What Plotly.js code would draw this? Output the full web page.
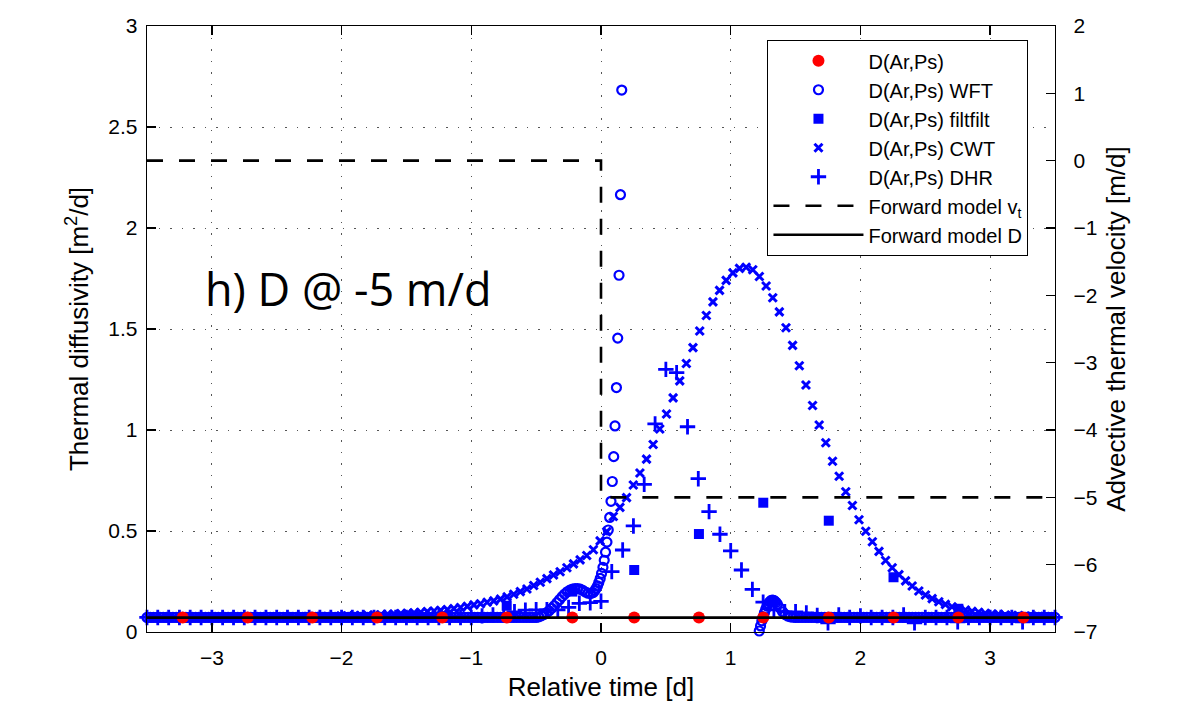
<!DOCTYPE html>
<html>
<head>
<meta charset="utf-8">
<script src="https://cdn.plot.ly/plotly-3.0.1.min.js"></script>
<style>html,body{margin:0;padding:0;background:#fff;}#chart{width:1188px;height:706px;}</style>
</head>
<body>
<div id="chart"></div>
<script>
// ---------- D(Ar,Ps) (red dots) ----------
const arpsTime = [-3.225,-2.724,-2.226,-1.727,-1.224,-0.727,-0.221,0.256,0.755,1.251,1.756,2.255,2.755,3.256];
const arpsD    = [0.072,0.072,0.072,0.072,0.072,0.072,0.072,0.072,0.072,0.072,0.072,0.072,0.072,0.072];

// ---------- D(Ar,Ps) filtfilt ----------
const filtTime = [-3.225,-2.724,-2.226,-1.727,-1.224,-0.727,-0.221,0.256,0.755,1.251,1.756,2.255,2.755,3.256];
const filtD    = [0.072,0.072,0.072,0.072,0.072,0.13,0.2,0.307,0.485,0.64,0.551,0.271,0.115,0.072];

// ---------- D(Ar,Ps) WFT (segments) ----------
const wftTimeA = [-3.5,-3.475,-3.45,-3.425,-3.4,-3.375,-3.35,-3.325,-3.3,-3.275,-3.25,-3.225,-3.2,-3.175,-3.15,-3.125,-3.1,-3.075,-3.05,-3.025,
-3,-2.975,-2.95,-2.925,-2.9,-2.875,-2.85,-2.825,-2.8,-2.775,-2.75,-2.725,-2.7,-2.675,-2.65,-2.625,-2.6,-2.575,-2.55,-2.525,
-2.5,-2.475,-2.45,-2.425,-2.4,-2.375,-2.35,-2.325,-2.3,-2.275,-2.25,-2.225,-2.2,-2.175,-2.15,-2.125,-2.1,-2.075,-2.05,-2.025,
-2,-1.975,-1.95,-1.925,-1.9,-1.875,-1.85,-1.825,-1.8,-1.775,-1.75,-1.725,-1.7,-1.675,-1.65,-1.625,-1.6,-1.575,-1.55,-1.525,
-1.5,-1.475,-1.45,-1.425,-1.4,-1.375,-1.35,-1.325,-1.3,-1.275,-1.25,-1.225,-1.2,-1.175,-1.15,-1.125,-1.1,-1.075,-1.05,-1.025,
-1,-0.975,-0.95,-0.925,-0.9,-0.875,-0.85,-0.825,-0.8,-0.775,-0.75,-0.725,-0.7,-0.675,-0.65,-0.625,-0.6,-0.575,-0.55,-0.525];
const wftDA = [0.072,0.072,0.072,0.072,0.072,0.072,0.072,0.072,0.072,0.072,0.072,0.072,0.072,0.072,0.072,0.072,0.072,0.072,0.072,0.072,
0.072,0.072,0.072,0.072,0.072,0.072,0.072,0.072,0.072,0.072,0.072,0.072,0.072,0.072,0.072,0.072,0.072,0.072,0.072,0.072,
0.072,0.072,0.072,0.072,0.072,0.072,0.072,0.072,0.072,0.072,0.072,0.072,0.072,0.072,0.072,0.072,0.072,0.072,0.072,0.072,
0.072,0.072,0.072,0.072,0.072,0.072,0.072,0.072,0.072,0.072,0.072,0.072,0.072,0.072,0.072,0.072,0.072,0.072,0.072,0.072,
0.072,0.072,0.072,0.072,0.072,0.072,0.072,0.072,0.072,0.072,0.072,0.072,0.072,0.072,0.072,0.072,0.072,0.072,0.072,0.072,
0.072,0.072,0.072,0.072,0.072,0.072,0.072,0.072,0.072,0.072,0.072,0.072,0.072,0.072,0.072,0.072,0.072,0.072,0.072,0.072];
const wftTimeB = [-0.5,-0.48,-0.46,-0.44,-0.42,-0.4,-0.38,-0.36,-0.34,-0.32,-0.3,-0.28,-0.26,-0.24,-0.22,-0.2,-0.18,-0.16,-0.14,-0.12,-0.1,-0.08,-0.06,
-0.048,-0.038,-0.027,-0.017,-0.006,0.004,0.015,0.025,0.035,0.046,0.056,0.067,0.077,0.087,0.098,0.108,0.119,0.129,0.139,0.15,0.16];
const wftDB = [0.072,0.075,0.08,0.087,0.095,0.105,0.117,0.13,0.145,0.16,0.175,0.188,0.199,0.207,0.212,0.215,0.215,0.212,0.206,0.198,0.192,0.19,0.195,
0.205,0.215,0.228,0.245,0.265,0.29,0.32,0.355,0.395,0.445,0.505,0.567,0.647,0.745,0.868,1.02,1.21,1.455,1.766,2.165,2.683];
const wftTimeC = [1.22,1.23,1.24,1.25,1.26,1.27,1.28,1.29,1.3,1.31,1.32,1.33,1.34,1.35,1.36,1.38,1.4,1.42,1.44,1.46,1.48,1.5];
const wftDC = [0.005,0.03,0.055,0.075,0.095,0.113,0.128,0.14,0.149,0.155,0.158,0.157,0.153,0.146,0.137,0.118,0.1,0.087,0.079,0.075,0.073,0.072];
const wftTimeD = [1.525,1.55,1.575,1.6,1.625,1.65,1.675,1.7,1.725,1.75,1.775,1.8,1.825,1.85,1.875,1.9,1.925,1.95,1.975,2,
2.025,2.05,2.075,2.1,2.125,2.15,2.175,2.2,2.225,2.25,2.275,2.3,2.325,2.35,2.375,2.4,2.425,2.45,2.475,2.5,
2.525,2.55,2.575,2.6,2.625,2.65,2.675,2.7,2.725,2.75,2.775,2.8,2.825,2.85,2.875,2.9,2.925,2.95,2.975,3,
3.025,3.05,3.075,3.1,3.125,3.15,3.175,3.2,3.225,3.25,3.275,3.3,3.325,3.35,3.375,3.4,3.425,3.45,3.475,3.5];
const wftDD = [0.072,0.072,0.072,0.072,0.072,0.072,0.072,0.072,0.072,0.072,0.072,0.072,0.072,0.072,0.072,0.072,0.072,0.072,0.072,0.072,
0.072,0.072,0.072,0.072,0.072,0.072,0.072,0.072,0.072,0.072,0.072,0.072,0.072,0.072,0.072,0.072,0.072,0.072,0.072,0.072,
0.072,0.072,0.072,0.072,0.072,0.072,0.072,0.072,0.072,0.072,0.072,0.072,0.072,0.072,0.072,0.072,0.072,0.072,0.072,0.072,
0.072,0.072,0.072,0.072,0.072,0.072,0.072,0.072,0.072,0.072,0.072,0.072,0.072,0.072,0.072,0.072,0.072,0.072,0.072,0.072];

// ---------- D(Ar,Ps) CWT ----------
const cwtTime = [-3.489,-3.438,-3.387,-3.335,-3.284,-3.233,-3.182,-3.131,-3.079,-3.028,-2.977,-2.926,-2.875,-2.823,-2.772,-2.721,-2.670,-2.619,-2.567,-2.516,
-2.465,-2.414,-2.363,-2.311,-2.260,-2.209,-2.158,-2.107,-2.055,-2.004,-1.953,-1.902,-1.851,-1.799,-1.748,-1.697,-1.646,-1.595,-1.543,-1.492,
-1.441,-1.390,-1.339,-1.287,-1.236,-1.185,-1.134,-1.083,-1.031,-0.980,-0.929,-0.878,-0.827,-0.775,-0.724,-0.673,-0.622,-0.571,-0.519,-0.468,
-0.417,-0.366,-0.315,-0.263,-0.212,-0.161,-0.110,-0.059,-0.007,0.044,0.095,0.146,0.197,0.249,0.300,0.351,0.402,0.453,0.505,0.556,
0.607,0.658,0.709,0.761,0.812,0.863,0.914,0.965,1.017,1.068,1.119,1.170,1.221,1.273,1.324,1.375,1.426,1.477,1.529,1.580,
1.631,1.682,1.733,1.785,1.836,1.887,1.938,1.989,2.041,2.092,2.143,2.194,2.245,2.297,2.348,2.399,2.450,2.501,2.553,2.604,
2.655,2.706,2.757,2.809,2.860,2.911,2.962,3.013,3.065,3.116,3.167,3.218,3.269,3.321,3.372,3.423,3.474];
const cwtD = [0.072,0.072,0.072,0.072,0.072,0.072,0.072,0.072,0.072,0.072,0.072,0.072,0.072,0.072,
0.072,0.073,0.073,0.073,0.073,0.074,0.074,0.074,0.075,0.075,0.076,0.076,0.077,0.077,0.078,0.079,
0.08,0.081,0.082,0.083,0.084,0.085,0.087,0.089,0.091,0.093,0.095,0.098,0.101,0.104,0.107,0.111,0.116,0.121,0.127,0.134,
0.14,0.147,0.154,0.163,0.174,0.187,0.2,0.213,0.23,0.246,0.264,0.282,0.298,0.318,0.337,0.357,0.379,0.407,0.451,0.497,
0.572,
0.617,0.665,0.728,0.787,0.856,0.928,1.005,1.079,1.159,1.243,1.329,1.408,1.49,1.567,1.634,1.691,1.741,1.778,1.8,1.806,
1.793,1.76,1.713,1.655,1.585,1.506,1.419,1.318,1.223,1.121,1.025,0.937,0.845,0.771,0.694,0.626,0.556,0.499,0.447,0.399,
0.354,0.318,0.284,0.253,0.228,0.203,0.183,0.165,0.15,0.137,0.125,0.115,0.109,0.102,0.098,0.093,0.089,0.087,0.084,0.082,
0.081,0.079,0.078,0.077,0.075,0.075];

// ---------- D(Ar,Ps) DHR ----------
const dhrTime = [-3.5,-3.417,-3.333,-3.25,-3.167,-3.083,-3,-2.917,-2.833,-2.75,-2.667,-2.583,-2.5,-2.417,-2.333,-2.25,-2.167,-2.083,-2,-1.917,
-1.833,-1.75,-1.667,-1.583,-1.5,-1.417,-1.333,-1.25,-1.167,-1.083,-1,-0.917,-0.833,-0.75,-0.667,-0.583,-0.5,-0.417,-0.333,-0.25,
-0.167,-0.083,0,0.083,0.167,0.25,0.333,0.417,0.5,0.583,0.667,0.75,0.833,0.917,1,1.083,1.167,1.25,1.333,1.417,
1.5,1.583,1.667,1.75,1.833,1.917,2,2.083,2.167,2.25,2.333,2.417,2.5,2.583,2.667,2.75,2.833,2.917,3,3.083,
3.167,3.25,3.333,3.417,3.5];
const dhrD = [0.072,0.072,0.072,0.072,0.072,0.072,0.072,0.072,0.072,0.072,0.072,0.072,0.072,0.072,0.072,0.072,0.072,0.072,0.072,0.072,
0.072,0.072,0.072,0.072,0.072,0.072,0.072,0.072,0.072,0.072,0.072,0.08,0.085,0.09,0.1,0.108,0.11,0.11,0.11,0.122,
0.142,0.145,0.152,0.299,0.406,0.525,0.731,1.03,1.3,1.284,1.016,0.759,0.596,0.484,0.402,0.307,0.211,0.148,0.11,0.1,
0.1,0.094,0.082,0.045,0.085,0.072,0.08,0.072,0.072,0.072,0.085,0.045,0.072,0.072,0.072,0.05,0.072,0.072,0.072,0.072,
0.072,0.05,0.072,0.072,0.072];

// ---------- Forward models ----------
const vtTime = [-3.5, 0, 0, 3.5];
const vtValue = [0, 0, -5, -5];       // advective thermal velocity [m/d] (right axis)
const fwdDTime = [-3.5, 3.5];
const fwdDValue = [0.071, 0.071];     // thermal diffusivity [m2/d]

// ---------- tick labels ----------
const xTicks = [-3, -2, -1, 0, 1, 2, 3];
const yTicks = [0, 0.5, 1, 1.5, 2, 2.5, 3];
const y2Ticks = [-7, -6, -5, -4, -3, -2, -1, 0, 1, 2];

const BLUE = '#0000ff';
const FONT = 'Liberation Sans, Arial, Helvetica, sans-serif';

const traces = [
  {x: wftTimeA.concat(wftTimeB, wftTimeC, wftTimeD), y: wftDA.concat(wftDB, wftDC, wftDD),
   type: 'scatter', mode: 'markers', name: 'D(Ar,Ps) WFT', legendrank: 2, cliponaxis: false,
   marker: {symbol: 'circle-open', size: 9, color: BLUE, line: {width: 2.2, color: BLUE}}},
  {x: filtTime, y: filtD, type: 'scatter', mode: 'markers', name: 'D(Ar,Ps) filtfilt', legendrank: 3, cliponaxis: false,
   marker: {symbol: 'square', size: 10, color: BLUE}},
  {x: cwtTime, y: cwtD, type: 'scatter', mode: 'markers', name: 'D(Ar,Ps) CWT', legendrank: 4, cliponaxis: false,
   marker: {symbol: 'x-thin', size: 8, color: BLUE, line: {width: 3, color: BLUE}}},
  {x: dhrTime, y: dhrD, type: 'scatter', mode: 'markers', name: 'D(Ar,Ps) DHR', legendrank: 5, cliponaxis: false,
   marker: {symbol: 'cross-thin', size: 11, color: BLUE, line: {width: 2.8, color: BLUE}}},
  {x: arpsTime, y: arpsD, type: 'scatter', mode: 'markers', name: 'D(Ar,Ps)', legendrank: 1, cliponaxis: false,
   marker: {symbol: 'circle', size: 12, color: '#ff0000'}},
  {x: vtTime, y: vtValue, yaxis: 'y2', type: 'scatter', mode: 'lines', name: 'Forward model v<sub>t</sub>', legendrank: 6,
   line: {color: '#000', width: 2.6, dash: '16px,16px'}},
  {x: fwdDTime, y: fwdDValue, type: 'scatter', mode: 'lines', name: 'Forward model D', legendrank: 7,
   line: {color: '#000', width: 2.6}}
];

const layout = {
  width: 1188, height: 706,
  margin: {l: 147, r: 133, t: 26, b: 74, pad: 0},
  paper_bgcolor: '#fff', plot_bgcolor: '#fff',
  font: {family: FONT, size: 21, color: '#000'},
  showlegend: true,
  legend: {x: 0.683, y: 0.977, xanchor: 'left', yanchor: 'top', bgcolor: '#fff',
           bordercolor: '#000', borderwidth: 1.3, font: {family: FONT, size: 20, color: '#000'},
           itemwidth: 90, traceorder: 'normal'},
  xaxis: {range: [-3.5, 3.5], tickvals: xTicks, ticktext: xTicks.map(v => v < 0 ? '\u2212' + Math.abs(v) : String(v)),
          ticks: 'inside', ticklen: 9, tickwidth: 1.3, tickcolor: '#000',
          showline: true, linecolor: '#000', linewidth: 1.3, mirror: 'ticks',
          showgrid: true, gridcolor: '#555', gridwidth: 1, griddash: '1.5px,10px', zeroline: false,
          tickfont: {family: FONT, size: 21}, ticklabelstandoff: 6,
          title: {text: 'Relative time [d]', font: {family: FONT, size: 26}, standoff: 10}},
  yaxis: {range: [0, 3], tickvals: yTicks, ticktext: yTicks.map(String),
          ticks: 'inside', ticklen: 9, tickwidth: 1.3, tickcolor: '#000',
          showline: true, linecolor: '#000', linewidth: 1.3, mirror: false,
          showgrid: true, gridcolor: '#555', gridwidth: 1, griddash: '1.5px,10px', zeroline: false,
          tickfont: {family: FONT, size: 21}, ticklabelstandoff: 4,
          title: {text: 'Thermal diffusivity [m<sup>2</sup>/d]', font: {family: FONT, size: 26}, standoff: 12}},
  yaxis2: {range: [-7, 2], tickvals: y2Ticks, overlaying: 'y', side: 'right', anchor: 'x',
          ticks: 'inside', ticklen: 9, tickwidth: 1.3, tickcolor: '#000',
          showline: true, linecolor: '#000', linewidth: 1.3,
          showgrid: false, zeroline: false,
          tickfont: {family: FONT, size: 21}, ticklabelstandoff: 13,
          title: {text: 'Advective thermal velocity [m/d]', font: {family: FONT, size: 26}, standoff: 10}},
  annotations: [{x: -3.07, y: 1.7, xref: 'x', yref: 'y', xanchor: 'left', yanchor: 'middle', showarrow: false,
                 text: 'h) D @ -5 m/d', font: {family: 'Open Sans, Noto Sans, sans-serif', size: 45, color: '#000'}}]
};

Plotly.newPlot('chart', traces, layout, {displayModeBar: false, staticPlot: true});
</script>
</body>
</html>
